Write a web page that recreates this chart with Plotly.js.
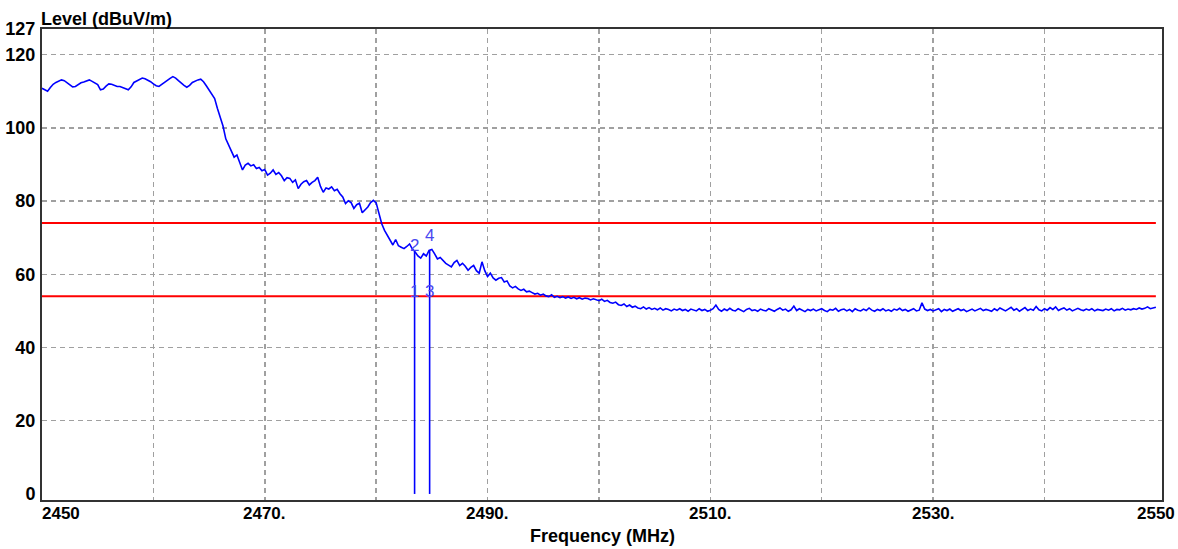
<!DOCTYPE html>
<html>
<head>
<meta charset="utf-8">
<script src="https://cdn.plot.ly/plotly-3.0.1.min.js"></script>
<style>html,body{margin:0;padding:0;background:#fff;}#chart{width:1178px;height:549px;}</style>
</head>
<body>
<div id="chart"></div>
<script>
// Sweep grid (MHz)
const fStart = 2450, fStop = 2550, fStep = 0.25;

// Measured level (dBuV/m), one value per 0.25 MHz from 2450 to 2550
const levels = [
  110.8,110.3,110.0,111.0,111.9,112.4,112.8,113.1,112.9,112.4,111.8,111.2,111.3,111.9,112.3,112.5,112.9,113.1,112.7,112.3,
  111.8,110.4,110.6,111.4,112.0,111.9,111.6,111.3,111.3,111.0,110.7,110.4,111.2,112.4,112.8,113.2,113.6,113.4,113.1,112.6,
  112.0,111.5,111.3,111.9,112.5,112.9,113.5,114.0,113.6,112.9,112.2,111.6,111.1,111.6,112.4,112.8,113.1,113.3,112.6,111.5,
  110.4,109.2,108.0,105.3,102.8,100.5,97.0,95.2,93.4,92.0,92.6,90.4,88.5,89.8,90.3,89.6,89.9,88.9,89.2,88.3,
  88.6,87.1,87.6,88.5,87.3,87.8,86.9,85.6,86.4,86.2,85.1,85.8,83.4,84.6,85.3,85.6,84.4,85.1,85.6,86.5,
  84.0,82.4,83.6,83.3,83.9,82.8,83.2,82.0,81.1,79.3,80.1,79.6,78.0,79.0,79.4,76.8,77.5,78.4,79.6,80.2,
  79.5,76.6,73.8,72.0,70.6,69.0,68.0,69.5,67.8,67.4,67.0,67.6,68.3,66.9,66.1,65.0,64.4,65.6,65.0,66.5,
  66.8,65.6,64.2,64.6,63.7,63.0,62.5,62.0,63.2,63.8,62.4,63.0,62.2,61.1,61.9,62.4,61.0,60.3,63.4,61.0,
  59.4,60.3,59.0,58.4,58.9,59.1,57.9,58.2,56.8,56.3,56.7,56.0,55.6,55.9,55.2,55.4,55.0,54.6,54.8,54.3,
  54.6,54.1,53.9,54.4,53.7,54.0,53.6,53.9,53.5,53.8,53.4,53.7,53.3,53.6,53.2,53.5,53.4,53.0,53.3,53.1,
  52.8,53.2,52.6,52.9,52.3,52.1,52.4,51.7,51.5,51.9,51.2,51.6,51.0,51.3,50.8,50.6,51.1,50.5,50.9,50.4,
  50.7,50.3,50.8,50.2,50.6,50.4,50.0,50.5,50.2,50.6,50.1,50.4,49.9,50.5,50.2,50.0,50.6,50.1,50.4,49.9,
  50.2,50.6,51.6,50.4,49.9,50.5,50.1,50.7,50.2,50.0,50.6,50.3,49.8,50.4,50.7,50.1,50.3,49.9,50.5,50.2,
  50.0,50.6,50.3,49.9,50.4,50.8,50.2,50.5,49.9,50.3,51.3,50.1,50.6,50.2,49.8,50.4,50.1,50.5,50.0,50.3,
  50.6,50.1,49.8,50.4,50.2,50.7,49.9,50.3,50.5,50.0,50.4,49.8,50.6,50.2,50.0,50.5,50.1,50.8,50.2,49.9,
  50.4,50.1,50.6,50.0,50.3,49.9,50.5,50.2,50.7,50.1,50.4,49.9,50.3,50.6,50.0,50.2,52.2,50.5,50.1,50.4,
  50.0,50.3,50.6,49.8,50.4,50.1,50.5,49.9,50.3,50.6,50.1,50.4,49.8,50.2,50.5,50.0,50.3,50.7,50.1,50.4,
  50.2,49.9,50.6,50.1,50.8,50.3,50.0,50.5,51.0,50.2,50.6,49.9,50.4,50.9,50.1,50.5,50.2,51.2,50.3,50.0,
  50.6,50.2,50.9,50.4,51.1,50.1,50.5,50.8,50.2,50.6,50.0,50.4,50.7,50.3,50.1,50.5,50.2,50.6,50.0,50.4,
  50.3,50.1,50.5,50.2,50.6,50.0,50.4,50.3,50.7,50.2,50.5,50.3,50.6,50.4,50.8,50.5,50.7,51.1,50.6,50.9,
  51.0
];

// Limit lines (dBuV/m)
const limitLevels = [74, 54];

// Markers
const markerFreqs = [2483.45, 2484.8];
const markerLevels = [66.1, 66.5];
const markerTopLabels = ["2", "4"];
const markerBottomLabels = ["1", "3"];
const markerTopLabelLevels = [67.9, 70.6];
const markerBottomLabelLevel = 55.4;

// Axis ticks
const yTickVals = [0, 20, 40, 60, 80, 100, 120, 127];
const yGridVals = [20, 40, 60, 80, 100, 120];
const xGridVals = [2460, 2470, 2480, 2490, 2500, 2510, 2520, 2530, 2540];
const xLabelVals = [2450, 2470, 2490, 2510, 2530, 2550];
const xLabelTexts = ["2450", "2470.", "2490.", "2510.", "2530.", "2550"];

const freqs = levels.map((_, i) => fStart + i * fStep);

const FONT = '"Liberation Sans", Arial, sans-serif';
const traces = [];

limitLevels.forEach(v => {
  traces.push({x: [fStart, fStop], y: [v, v], mode: 'lines', line: {color: '#ff0000', width: 2}, hoverinfo: 'skip', showlegend: false});
});

traces.push({x: freqs, y: levels, mode: 'lines', line: {color: '#0000ff', width: 1.6}, showlegend: false});

markerFreqs.forEach((f, i) => {
  traces.push({x: [f, f], y: [0, markerLevels[i]], mode: 'lines', line: {color: '#0000ff', width: 1.6}, hoverinfo: 'skip', showlegend: false});
});

// overlay axis for grid only
traces.push({x: [fStart], y: [0], yaxis: 'y2', mode: 'markers', marker: {opacity: 0}, hoverinfo: 'skip', showlegend: false});

const annotations = [];
xLabelVals.forEach((v, i) => {
  annotations.push({x: v, xref: 'x', y: 0, yref: 'paper', yanchor: 'top', yshift: -2,
    xanchor: i === 0 ? 'left' : 'center', xshift: i === 0 ? -2 : 0,
    text: '<b>' + xLabelTexts[i] + '</b>', showarrow: false, font: {family: FONT, size: 17, color: '#000'}});
});
markerFreqs.forEach((f, i) => {
  annotations.push({x: f, y: markerTopLabelLevels[i], xref: 'x', yref: 'y', text: markerTopLabels[i], showarrow: false,
    font: {family: FONT, size: 17, color: '#4848f0'}});
  annotations.push({x: f, y: markerBottomLabelLevel, xref: 'x', yref: 'y', text: markerBottomLabels[i], showarrow: false,
    font: {family: FONT, size: 17, color: '#4848f0'}});
});
annotations.push({x: 0.5, xref: 'paper', y: 0, yref: 'paper', yanchor: 'top', yshift: -24,
  text: '<b>Frequency (MHz)</b>', showarrow: false, font: {family: FONT, size: 18, color: '#000'}});
annotations.push({x: 0, xref: 'paper', xanchor: 'left', xshift: -3, y: 1, yref: 'paper', yanchor: 'bottom', yshift: -2,
  text: '<b>Level (dBuV/m)</b>', showarrow: false, font: {family: FONT, size: 18, color: '#000'}});

const layout = {
  width: 1178, height: 549,
  margin: {l: 42, r: 16, t: 29, b: 49, pad: 0},
  paper_bgcolor: '#ffffff', plot_bgcolor: '#ffffff',
  font: {family: FONT, color: '#000'},
  showlegend: false,
  xaxis: {
    range: [2450, 2550.55], tickvals: xGridVals, showticklabels: false, ticks: '',
    showgrid: true, gridcolor: '#a0a0a0', gridwidth: 1.5, griddash: '5px,4px',
    zeroline: false, showline: true, mirror: true, linecolor: '#333', linewidth: 2, fixedrange: true
  },
  yaxis: {
    range: [-1.65, 127], tickvals: yTickVals, ticktext: yTickVals.map(String), ticks: '',
    tickfont: {family: FONT, size: 18, color: '#000', weight: 'bold'}, showgrid: false,
    zeroline: false, showline: true, mirror: true, linecolor: '#333', linewidth: 2, fixedrange: true,
    ticklabelstandoff: 1
  },
  yaxis2: {
    overlaying: 'y', range: [-1.65, 127], tickvals: yGridVals, showticklabels: false, ticks: '',
    showgrid: true, gridcolor: '#a0a0a0', gridwidth: 1.5, griddash: '5px,4px', zeroline: false, showline: false
  },
  annotations: annotations
};

Plotly.newPlot('chart', traces, layout, {staticPlot: true, displayModeBar: false});
</script>
</body>
</html>
